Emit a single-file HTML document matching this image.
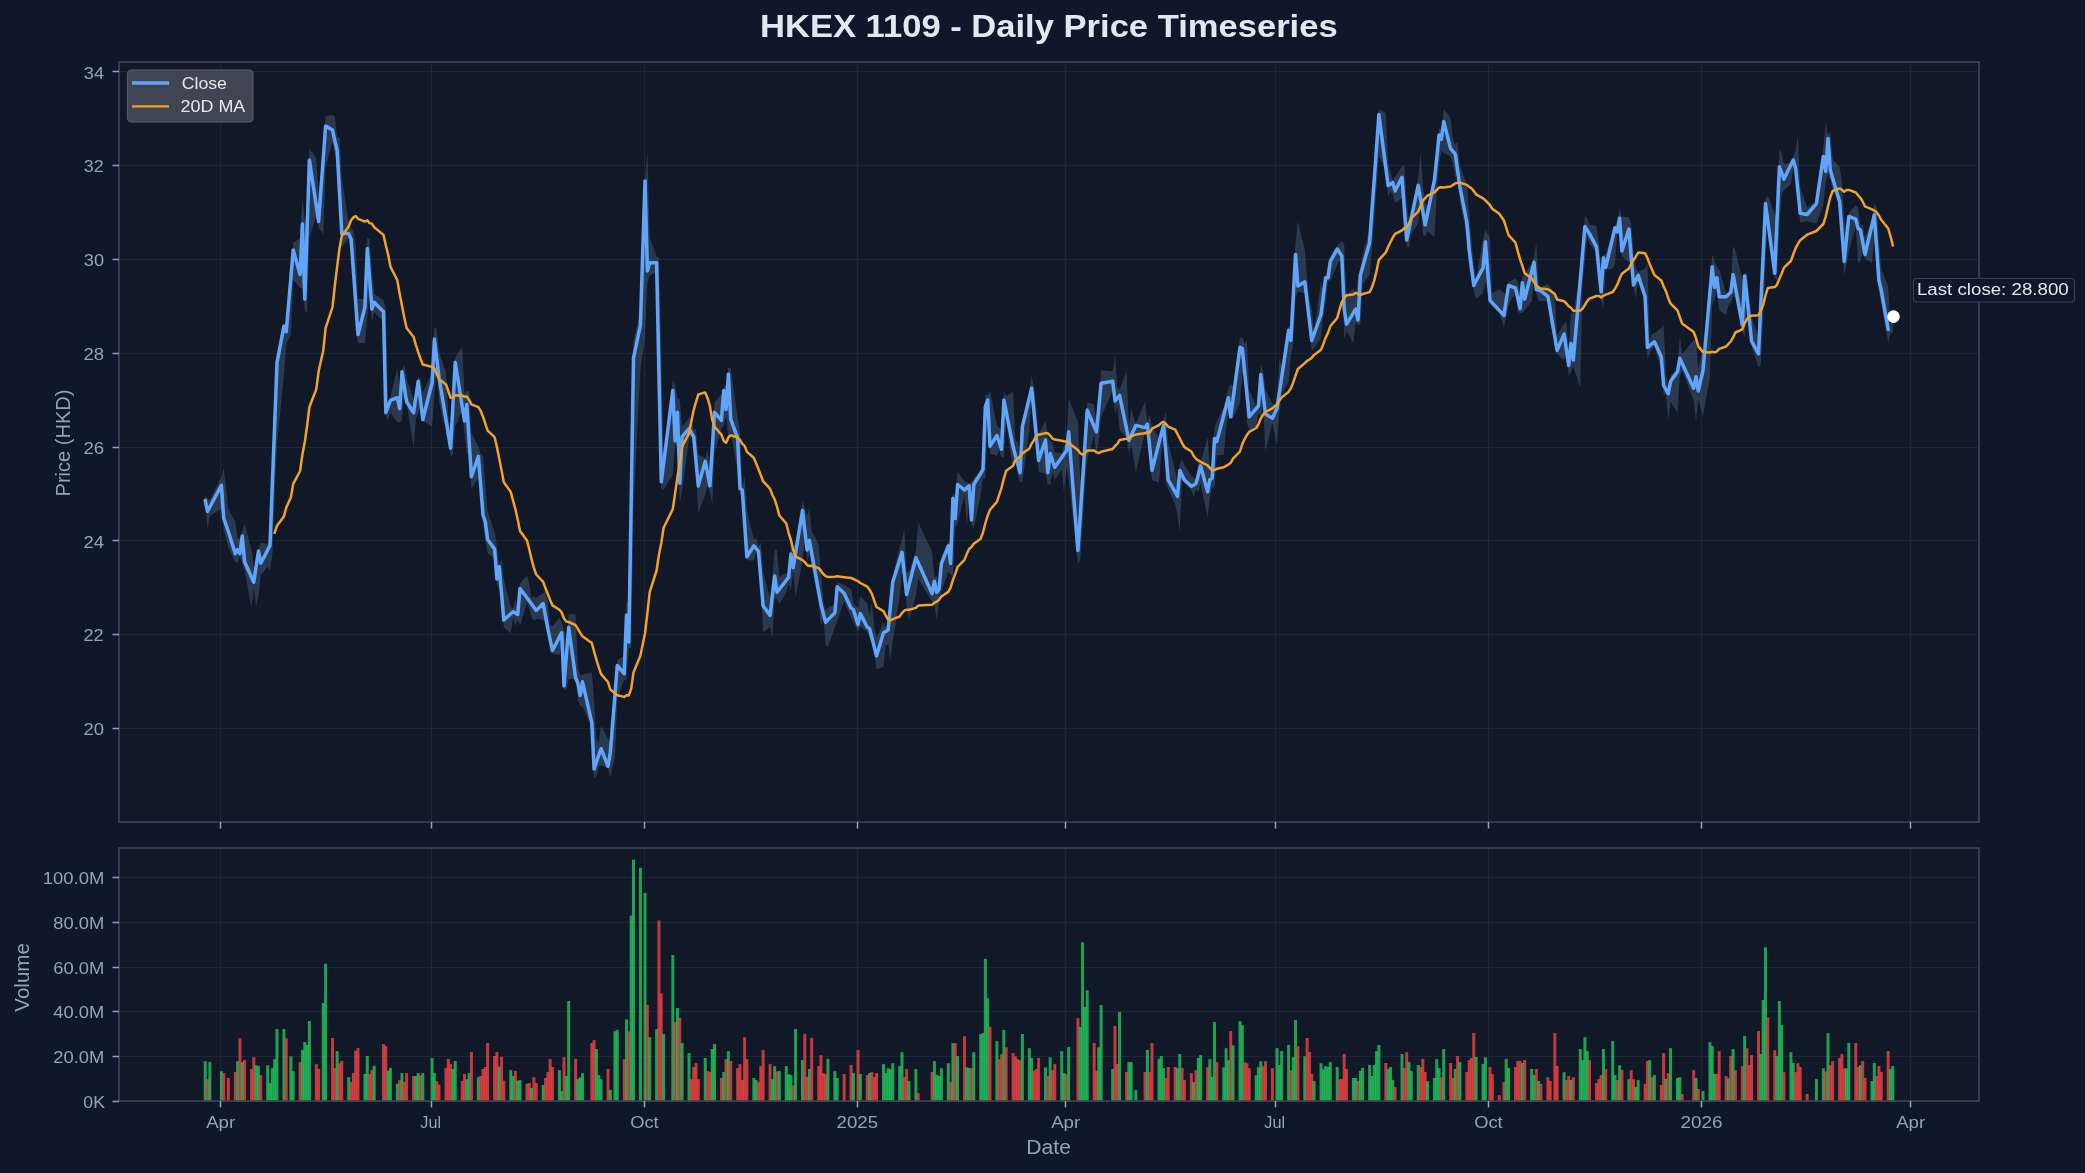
<!DOCTYPE html><html><head><meta charset="utf-8"><style>html,body{margin:0;padding:0;background:#0f172a;}svg{display:block;will-change:transform}text{font-family:"Liberation Sans",sans-serif}</style></head><body>
<svg width="2085" height="1173" viewBox="0 0 2085 1173">
<rect width="2085" height="1173" fill="#0f172a"/>
<rect x="119.0" y="62.0" width="1860.0" height="760.0" fill="#111827"/>
<rect x="119.0" y="848.0" width="1860.0" height="253.0" fill="#111827"/>
<path d="M119.0,728.5H1979.0M119.0,634.5H1979.0M119.0,540.5H1979.0M119.0,447.5H1979.0M119.0,353.5H1979.0M119.0,259.5H1979.0M119.0,165.5H1979.0M119.0,71.5H1979.0M119.0,1101.5H1979.0M119.0,1056.5H1979.0M119.0,1011.5H1979.0M119.0,967.5H1979.0M119.0,922.5H1979.0M119.0,877.5H1979.0M220.5,62.0V822.0M220.5,848.0V1101.0M431.5,62.0V822.0M431.5,848.0V1101.0M644.5,62.0V822.0M644.5,848.0V1101.0M857.5,62.0V822.0M857.5,848.0V1101.0M1065.5,62.0V822.0M1065.5,848.0V1101.0M1275.5,62.0V822.0M1275.5,848.0V1101.0M1488.5,62.0V822.0M1488.5,848.0V1101.0M1701.5,62.0V822.0M1701.5,848.0V1101.0M1910.5,62.0V822.0M1910.5,848.0V1101.0" stroke="#1f2937" stroke-width="1" stroke-opacity="0.85" fill="none"/>
<path d="M205.2,494.9L207.5,498.3L209.8,500.2L221.4,476.7L223.7,467.7L228.4,508.7L235.3,521.8L237.6,538.0L239.9,538.9L242.2,532.6L244.6,523.4L251.5,549.8L253.8,567.6L256.1,564.9L258.5,547.9L260.8,542.5L267.7,543.9L270.0,541.0L272.3,478.4L274.7,389.5L277.0,356.3L283.9,322.2L286.2,323.6L290.9,272.7L293.2,242.7L300.1,238.1L302.4,197.8L304.8,219.4L307.1,224.0L309.4,148.2L316.3,158.2L318.6,192.8L323.3,153.8L325.6,116.2L332.5,115.0L334.8,116.3L337.2,137.5L339.5,137.3L341.8,178.6L348.7,221.7L351.1,228.9L353.4,230.3L355.7,246.3L358.0,299.1L364.9,298.9L367.3,237.4L369.6,239.4L371.9,271.4L374.2,293.8L383.5,300.0L385.8,308.4L388.1,402.4L390.4,396.9L397.3,368.7L399.7,388.4L402.0,369.1L404.3,365.0L406.6,378.2L413.6,399.5L415.9,394.7L418.2,376.5L420.5,379.3L422.8,392.7L432.1,372.0L434.4,327.3L436.7,329.0L439.0,351.7L446.0,372.7L448.3,414.9L450.6,429.3L452.9,399.9L455.2,358.3L462.2,346.0L464.5,395.3L466.8,390.6L469.1,391.8L471.4,432.9L478.4,446.3L480.7,453.7L483.0,455.6L485.3,483.8L487.6,511.2L494.6,532.0L496.9,545.8L499.2,564.6L501.5,558.9L503.8,579.6L510.8,606.8L513.1,608.6L515.4,599.2L517.7,611.7L520.0,583.2L527.0,575.5L529.3,583.8L531.6,598.2L533.9,596.2L536.2,597.8L543.2,592.9L545.5,590.5L547.8,602.3L550.1,625.1L552.5,626.6L559.4,618.1L561.7,621.8L564.0,630.5L566.3,644.3L568.7,613.8L575.6,614.6L577.9,665.8L580.2,675.2L582.5,674.6L591.8,672.2L594.1,701.9L596.4,738.9L598.7,742.8L601.1,725.7L608.0,738.7L610.3,742.6L615.0,680.8L617.3,660.3L624.2,655.6L626.5,601.4L628.8,604.3L631.2,468.9L633.5,340.5L640.4,311.8L645.0,178.9L647.4,152.0L649.7,236.4L656.6,257.0L658.9,257.3L661.3,345.7L663.6,457.2L672.8,378.8L675.1,384.9L677.5,397.8L679.8,399.7L682.1,426.4L689.0,417.7L691.3,420.0L693.7,429.4L696.0,429.0L698.3,453.9L705.2,458.5L707.6,449.0L709.9,464.7L712.2,444.5L714.5,402.3L721.4,394.2L723.8,386.9L726.1,385.0L728.4,368.1L730.7,367.3L737.6,417.5L740.0,432.1L742.3,485.8L744.6,476.7L746.9,510.5L753.8,539.4L756.2,537.9L758.5,546.7L760.8,542.4L763.1,571.9L770.1,598.3L772.4,576.8L774.7,548.2L777.0,550.4L779.3,577.0L786.3,572.7L788.6,575.1L790.9,542.4L793.2,546.3L795.5,543.4L802.5,501.0L804.8,507.8L807.1,516.3L809.4,506.7L811.7,531.6L818.7,544.0L821.0,572.6L823.3,600.3L825.6,610.3L827.9,607.5L834.9,604.2L837.2,582.2L844.1,584.7L851.1,589.3L853.4,602.9L858.0,608.0L860.3,596.1L867.3,603.4L869.6,615.9L871.9,602.4L874.2,626.8L876.5,637.4L883.5,622.5L885.8,627.3L888.1,627.2L890.4,596.0L892.7,576.3L899.7,546.8L902.0,540.2L904.3,527.8L906.6,571.7L908.9,571.7L915.9,550.8L918.2,522.5L932.1,551.8L934.4,577.6L936.7,576.3L939.0,587.1L941.4,557.1L948.3,541.9L950.6,541.5L952.9,492.4L955.2,494.6L957.6,471.9L964.5,481.1L966.8,482.4L969.1,483.2L971.5,482.0L973.8,478.0L980.7,470.0L983.0,460.8L985.3,395.6L987.7,394.6L990.0,390.6L996.9,425.5L999.2,427.9L1001.5,429.0L1003.9,392.1L1006.2,395.9L1013.1,391.9L1015.4,440.1L1017.8,442.1L1020.1,461.0L1022.4,422.1L1029.3,390.4L1031.6,376.0L1034.0,386.8L1036.3,405.4L1038.6,434.2L1045.5,421.0L1047.8,437.3L1050.2,440.7L1052.5,443.7L1054.8,452.3L1061.7,453.1L1064.0,446.6L1066.4,443.6L1068.7,398.4L1077.9,421.7L1080.3,481.4L1082.6,474.2L1084.9,438.3L1087.2,402.2L1094.1,404.4L1096.5,424.4L1098.8,406.0L1101.1,370.3L1112.7,371.3L1115.0,355.5L1117.3,386.3L1119.6,390.0L1126.6,370.8L1128.9,427.6L1131.2,408.8L1135.8,423.9L1145.1,401.2L1147.4,422.1L1149.7,414.7L1152.0,427.1L1159.0,437.5L1161.3,427.5L1163.6,419.4L1165.9,412.0L1168.2,442.4L1175.2,471.0L1177.5,483.2L1179.8,463.6L1182.1,458.7L1184.4,465.1L1191.4,476.1L1193.7,477.7L1196.0,481.1L1198.3,462.1L1200.6,462.2L1207.6,436.9L1209.9,468.1L1212.2,476.4L1214.5,427.3L1216.8,421.3L1223.8,406.7L1226.1,397.5L1228.4,388.2L1230.7,384.1L1233.0,386.6L1240.0,337.7L1242.3,337.3L1244.6,343.9L1246.9,340.2L1249.2,389.9L1256.2,406.0L1258.5,394.1L1260.8,364.1L1263.1,371.1L1265.4,388.9L1272.4,404.2L1277.0,402.6L1279.3,358.9L1281.7,365.6L1288.6,326.4L1290.9,326.5L1293.2,288.3L1295.5,242.8L1297.9,221.3L1304.8,249.8L1307.1,278.0L1309.4,299.9L1311.7,309.1L1314.1,331.7L1321.0,281.0L1323.3,291.5L1325.6,276.1L1328.0,265.3L1330.3,256.5L1337.2,245.8L1339.5,242.8L1341.8,241.3L1344.2,244.3L1346.5,295.6L1353.4,288.2L1355.7,295.4L1358.0,276.6L1360.4,266.9L1362.7,253.6L1369.6,229.2L1371.9,207.7L1374.3,176.1L1376.6,142.6L1378.9,109.2L1385.8,112.9L1388.1,162.7L1390.5,171.6L1392.8,179.9L1395.1,176.8L1402.0,166.5L1404.3,164.3L1406.7,200.9L1409.0,220.0L1411.3,211.8L1418.2,177.7L1420.5,152.1L1422.9,185.1L1425.2,203.2L1427.5,205.8L1434.4,174.1L1436.8,151.0L1439.1,128.0L1441.4,131.4L1443.7,108.7L1450.6,118.0L1453.0,139.2L1455.3,144.7L1457.6,142.0L1459.9,165.8L1466.8,184.1L1469.2,214.0L1471.5,238.8L1473.8,265.0L1476.1,278.9L1483.1,238.5L1485.4,230.1L1490.0,237.3L1492.3,292.9L1499.3,289.2L1503.9,292.5L1506.2,296.6L1508.5,282.0L1515.5,278.4L1517.8,282.0L1520.1,291.3L1522.4,276.6L1524.7,274.8L1531.7,262.9L1534.0,256.8L1536.3,242.6L1538.6,284.5L1540.9,287.1L1547.9,284.3L1550.2,286.9L1554.8,295.9L1557.1,335.0L1564.1,323.6L1566.4,322.1L1568.7,347.7L1571.0,311.9L1573.3,313.7L1580.3,269.1L1582.6,246.3L1584.9,216.1L1587.2,218.1L1589.5,224.8L1596.5,225.9L1598.8,243.6L1601.1,265.8L1603.4,254.8L1605.7,253.8L1612.7,231.6L1615.0,225.2L1617.3,220.8L1619.6,208.8L1621.9,216.4L1628.9,217.0L1631.2,223.6L1633.5,251.0L1635.8,268.4L1638.2,272.0L1645.1,268.4L1647.4,263.1L1649.7,340.5L1652.0,333.8L1654.4,333.3L1661.3,328.1L1663.6,324.6L1665.9,371.9L1668.2,387.7L1670.6,375.2L1677.5,368.9L1679.8,335.5L1682.1,353.9L1693.7,340.0L1696.0,340.1L1698.3,370.3L1703.0,345.9L1709.9,288.6L1712.2,254.3L1714.5,261.1L1716.9,267.0L1719.2,269.3L1726.1,292.9L1728.4,291.7L1730.8,286.1L1733.1,246.1L1735.4,250.6L1742.3,279.7L1744.6,273.5L1747.0,272.3L1749.3,296.2L1751.6,317.5L1758.5,336.6L1760.8,295.1L1763.2,247.6L1765.5,198.3L1767.8,195.2L1774.7,213.5L1777.0,218.5L1779.4,148.9L1781.7,153.5L1784.0,164.2L1790.9,162.5L1793.3,156.5L1795.6,151.0L1797.9,136.5L1800.2,186.9L1807.1,207.7L1816.4,201.5L1823.3,147.4L1825.7,123.0L1828.0,135.2L1830.3,130.4L1832.6,159.2L1839.6,166.7L1841.9,181.1L1844.2,217.5L1846.5,236.7L1848.8,213.1L1855.8,205.1L1858.1,207.6L1860.4,226.4L1862.7,223.4L1865.0,237.5L1872.0,219.7L1874.3,202.6L1876.6,207.4L1878.9,239.0L1881.2,268.1L1888.2,287.2L1890.5,326.9L1892.8,305.2L1892.8,332.8L1890.5,333.5L1888.2,342.5L1881.2,304.0L1878.9,293.0L1876.6,257.8L1874.3,236.7L1872.0,263.1L1865.0,258.5L1862.7,251.6L1860.4,261.0L1858.1,262.9L1855.8,226.8L1848.8,252.0L1846.5,265.1L1844.2,275.5L1841.9,241.1L1839.6,206.3L1832.6,188.9L1830.3,179.7L1828.0,173.9L1825.7,182.0L1823.3,205.2L1816.4,223.8L1807.1,221.0L1800.2,222.7L1797.9,203.2L1795.6,172.1L1793.3,168.9L1790.9,184.0L1784.0,190.3L1781.7,194.1L1779.4,225.3L1777.0,280.2L1774.7,277.6L1767.8,226.7L1765.5,261.5L1763.2,316.1L1760.8,364.8L1758.5,367.1L1751.6,346.2L1749.3,321.2L1747.0,306.4L1744.6,337.7L1742.3,331.4L1735.4,298.9L1733.1,295.6L1730.8,302.8L1728.4,305.2L1726.1,315.3L1719.2,309.9L1716.9,289.3L1714.5,299.2L1712.2,305.1L1709.9,377.2L1703.0,416.2L1698.3,399.4L1696.0,421.8L1693.7,400.5L1682.1,371.1L1679.8,376.4L1677.5,413.2L1670.6,401.7L1668.2,420.9L1665.9,394.7L1663.6,394.5L1661.3,370.5L1654.4,346.1L1652.0,349.0L1649.7,354.0L1647.4,359.5L1645.1,298.7L1638.2,282.6L1635.8,298.4L1633.5,286.9L1631.2,262.5L1628.9,262.2L1621.9,256.1L1619.6,236.4L1617.3,233.3L1615.0,263.5L1612.7,268.8L1605.7,270.1L1603.4,309.8L1601.1,299.0L1598.8,281.0L1596.5,252.7L1589.5,243.7L1587.2,236.1L1584.9,261.4L1582.6,282.9L1580.3,388.0L1573.3,366.8L1571.0,371.8L1568.7,376.8L1566.4,351.7L1564.1,360.5L1557.1,354.1L1554.8,340.8L1550.2,322.8L1547.9,300.9L1540.9,300.9L1538.6,301.4L1536.3,293.8L1534.0,280.0L1531.7,301.6L1524.7,310.3L1522.4,312.7L1520.1,313.3L1517.8,311.8L1515.5,291.6L1508.5,305.2L1506.2,317.2L1503.9,327.3L1499.3,313.3L1492.3,306.5L1490.0,304.6L1485.4,281.3L1483.1,293.2L1476.1,299.0L1473.8,291.2L1471.5,273.6L1469.2,271.2L1466.8,236.9L1459.9,201.0L1457.6,174.4L1455.3,178.6L1453.0,165.3L1450.6,156.4L1443.7,153.0L1441.4,151.0L1439.1,163.3L1436.8,192.5L1434.4,237.3L1427.5,231.3L1425.2,236.2L1422.9,234.9L1420.5,204.1L1418.2,223.4L1411.3,234.6L1409.0,247.2L1406.7,246.7L1404.3,210.1L1402.0,198.3L1395.1,203.1L1392.8,194.8L1390.5,191.7L1388.1,196.6L1385.8,172.1L1378.9,154.4L1376.6,186.9L1374.3,219.8L1371.9,249.3L1369.6,274.4L1362.7,284.8L1360.4,324.6L1358.0,324.8L1355.7,322.3L1353.4,343.6L1346.5,330.9L1344.2,339.1L1341.8,261.6L1339.5,260.6L1337.2,264.9L1330.3,280.8L1328.0,280.7L1325.6,304.1L1323.3,317.1L1321.0,338.2L1314.1,348.1L1311.7,350.8L1309.4,328.8L1307.1,304.8L1304.8,293.3L1297.9,291.6L1295.5,299.7L1293.2,344.4L1290.9,355.1L1288.6,381.4L1281.7,394.4L1279.3,413.7L1277.0,445.5L1272.4,423.2L1265.4,452.0L1263.1,399.9L1260.8,418.3L1258.5,411.8L1256.2,426.2L1249.2,429.5L1246.9,422.6L1244.6,374.9L1242.3,374.3L1240.0,402.7L1233.0,418.8L1230.7,418.7L1228.4,412.8L1226.1,428.7L1223.8,454.8L1216.8,455.3L1214.5,489.3L1212.2,487.1L1209.9,497.6L1207.6,517.7L1200.6,483.3L1198.3,492.5L1196.0,489.3L1193.7,497.2L1191.4,490.7L1184.4,482.5L1182.1,480.1L1179.8,532.0L1177.5,515.0L1175.2,504.9L1168.2,489.1L1165.9,483.2L1163.6,440.3L1161.3,452.8L1159.0,482.7L1152.0,480.0L1149.7,460.5L1147.4,439.8L1145.1,432.1L1135.8,472.7L1131.2,444.5L1128.9,453.7L1126.6,437.8L1119.6,430.1L1117.3,405.6L1115.0,413.9L1112.7,390.4L1101.1,416.8L1098.8,440.9L1096.5,454.4L1094.1,435.2L1087.2,458.9L1084.9,485.3L1082.6,526.5L1080.3,559.7L1077.9,564.2L1068.7,479.8L1066.4,466.2L1064.0,493.0L1061.7,469.4L1054.8,479.9L1052.5,472.5L1050.2,485.4L1047.8,483.9L1045.5,473.9L1038.6,471.7L1036.3,442.3L1034.0,416.8L1031.6,402.4L1029.3,429.4L1022.4,482.2L1020.1,482.1L1017.8,475.6L1015.4,460.2L1013.1,469.5L1006.2,422.8L1003.9,457.1L1001.5,457.8L999.2,450.6L996.9,456.1L990.0,453.6L987.7,413.5L985.3,479.5L983.0,477.6L980.7,495.3L973.8,527.7L971.5,524.0L969.1,499.4L966.8,525.8L964.5,495.5L957.6,523.8L955.2,527.3L952.9,575.7L950.6,574.6L948.3,571.4L941.4,592.0L939.0,603.7L936.7,619.8L934.4,605.5L932.1,601.2L918.2,579.1L915.9,595.6L908.9,619.9L906.6,605.0L904.3,577.4L902.0,571.7L899.7,596.3L892.7,642.5L890.4,659.8L888.1,644.6L885.8,645.6L883.5,666.5L876.5,669.7L874.2,652.4L871.9,642.1L869.6,638.1L867.3,632.1L860.3,626.4L858.0,631.8L853.4,622.2L851.1,617.7L844.1,601.6L837.2,620.8L834.9,626.9L827.9,647.0L825.6,645.5L823.3,617.4L821.0,625.6L818.7,604.4L811.7,566.5L809.4,554.6L807.1,561.1L804.8,536.6L802.5,561.8L795.5,597.1L793.2,571.4L790.9,590.4L788.6,583.7L786.3,592.8L779.3,604.0L777.0,598.5L774.7,598.1L772.4,638.9L770.1,626.7L763.1,632.4L760.8,583.9L758.5,553.3L756.2,553.2L753.8,560.5L746.9,560.2L744.6,525.5L742.3,503.7L740.0,493.6L737.6,470.7L730.7,431.7L728.4,437.7L726.1,416.2L723.8,425.4L721.4,428.8L714.5,453.1L712.2,504.6L709.9,492.0L707.6,484.9L705.2,494.7L698.3,513.1L696.0,471.0L693.7,442.3L691.3,436.6L689.0,439.7L682.1,489.9L679.8,503.2L677.5,449.3L675.1,443.3L672.8,474.7L663.6,489.5L661.3,489.2L658.9,383.2L656.6,271.9L649.7,275.6L647.4,282.6L645.0,338.5L640.4,369.8L633.5,505.9L631.2,648.2L628.8,647.6L626.5,680.0L624.2,680.0L617.3,698.3L615.0,757.0L610.3,777.1L608.0,768.1L601.1,765.4L598.7,766.8L596.4,776.3L594.1,777.9L591.8,727.3L582.5,706.7L580.2,705.9L577.9,699.7L575.6,679.1L568.7,679.3L566.3,690.5L564.0,688.9L561.7,645.2L559.4,655.1L552.5,653.6L550.1,652.4L547.8,633.8L545.5,621.9L543.2,620.0L536.2,618.8L533.9,620.7L531.6,617.3L529.3,607.7L527.0,602.9L520.0,625.4L517.7,619.7L515.4,625.9L513.1,616.9L510.8,633.4L503.8,627.2L501.5,596.3L499.2,589.3L496.9,584.4L494.6,558.3L487.6,553.3L485.3,540.1L483.0,525.9L480.7,495.1L478.4,478.6L471.4,488.7L469.1,452.3L466.8,453.5L464.5,433.4L462.2,410.6L455.2,425.9L452.9,454.4L450.6,456.5L448.3,441.2L446.0,431.9L439.0,401.9L436.7,370.1L434.4,394.7L432.1,426.9L422.8,421.1L420.5,405.7L418.2,413.5L415.9,418.4L413.6,447.7L406.6,403.9L404.3,391.5L402.0,419.9L399.7,422.5L397.3,422.2L390.4,412.3L388.1,420.3L385.8,415.9L383.5,321.7L374.2,312.2L371.9,321.6L369.6,289.0L367.3,318.3L364.9,343.0L358.0,343.0L355.7,328.9L353.4,283.9L351.1,252.0L348.7,238.7L341.8,246.8L339.5,200.7L337.2,162.7L334.8,153.9L332.5,141.4L325.6,167.5L323.3,234.2L318.6,227.4L316.3,216.2L309.4,237.5L307.1,313.0L304.8,310.3L302.4,288.3L300.1,287.9L293.2,280.0L290.9,334.8L286.2,344.3L283.9,376.6L277.0,443.5L274.7,495.8L272.3,555.6L270.0,570.8L267.7,566.5L260.8,575.5L258.5,595.8L256.1,607.2L253.8,587.3L251.5,607.9L244.6,570.7L242.2,563.5L239.9,556.5L237.6,562.3L235.3,562.4L228.4,546.8L223.7,529.9L221.4,509.0L209.8,515.5L207.5,529.1L205.2,502.7Z" fill="#7d9ac4" fill-opacity="0.25" stroke="none"/>
<path d="M205.2,500.4L207.5,511.3L209.8,507.0L221.4,485.4L223.7,518.2L228.4,531.8L235.3,553.6L237.6,549.5L239.9,553.6L242.2,535.9L244.6,561.8L251.5,577.2L253.8,582.3L256.1,566.6L258.5,550.9L260.8,563.2L267.7,549.9L270.0,545.4L272.3,484.5L274.7,423.6L277.0,362.7L283.9,326.3L286.2,331.8L290.9,277.3L293.2,250.0L300.1,274.5L302.4,224.1L304.8,299.1L307.1,229.6L309.4,160.0L316.3,206.1L318.6,221.4L323.3,157.7L325.6,125.9L332.5,130.0L334.8,140.6L337.2,151.1L339.5,192.4L341.8,233.6L348.7,233.6L351.1,239.1L353.4,270.9L355.7,302.7L358.0,334.5L364.9,307.3L367.3,248.6L369.6,278.8L371.9,309.1L374.2,302.3L383.5,311.8L385.8,412.7L388.1,406.5L390.4,400.4L397.3,397.7L399.7,408.6L402.0,371.8L404.3,386.8L406.6,401.8L413.6,412.7L415.9,397.0L418.2,381.3L420.5,400.4L422.8,419.5L432.1,382.7L434.4,339.1L436.7,358.2L439.0,377.3L446.0,419.8L448.3,434.0L450.6,448.2L452.9,405.2L455.2,362.3L462.2,406.3L464.5,420.9L466.8,404.5L469.1,440.7L471.4,476.8L478.4,456.4L480.7,485.7L483.0,515.0L485.3,521.8L487.6,539.5L494.6,549.1L496.9,579.1L499.2,566.8L501.5,593.4L503.8,620.0L510.8,613.8L513.1,611.8L515.4,613.1L517.7,614.5L520.0,588.6L527.0,597.8L529.3,600.9L531.6,604.1L533.9,607.2L536.2,610.4L543.2,603.6L545.5,616.1L547.8,628.6L550.1,639.5L552.5,650.4L559.4,637.1L561.7,632.7L564.0,685.9L566.3,656.6L568.7,627.3L575.6,677.7L577.9,683.2L580.2,695.4L582.5,681.8L591.8,722.7L594.1,769.1L596.4,762.3L598.7,755.4L601.1,748.6L608.0,766.3L610.3,752.7L615.0,694.5L617.3,665.4L624.2,673.6L626.5,615.0L628.8,642.0L631.2,500.0L633.5,358.0L640.4,325.4L645.0,180.9L647.4,270.9L649.7,262.7L656.6,262.7L658.9,372.2L661.3,481.8L663.6,463.5L672.8,390.4L675.1,440.9L677.5,412.3L679.8,483.2L682.1,436.8L689.0,428.6L691.3,432.7L693.7,436.8L696.0,461.3L698.3,485.9L705.2,461.4L707.6,473.6L709.9,485.9L712.2,449.1L714.5,412.3L721.4,420.4L723.8,390.4L726.1,409.5L728.4,374.1L730.7,419.1L737.6,438.2L740.0,488.6L742.3,490.0L744.6,523.4L746.9,556.8L753.8,545.9L756.2,548.6L758.5,551.4L760.8,578.6L763.1,605.9L770.1,615.4L772.4,595.6L774.7,575.9L777.0,592.3L779.3,589.3L786.3,580.3L788.6,577.3L790.9,554.1L793.2,567.7L795.5,553.4L802.5,510.5L804.8,530.2L807.1,550.0L809.4,540.4L811.7,553.2L818.7,591.7L821.0,604.5L823.3,613.4L825.6,622.3L827.9,619.9L834.9,612.7L837.2,586.8L844.1,593.2L851.1,608.2L853.4,609.5L858.0,624.5L860.3,613.6L867.3,627.3L869.6,628.6L871.9,637.7L874.2,646.8L876.5,655.9L883.5,632.7L885.8,631.4L888.1,630.0L890.4,606.1L892.7,582.3L899.7,559.8L902.0,552.3L904.3,573.4L906.6,594.5L908.9,585.3L915.9,557.7L918.2,562.8L932.1,593.6L934.4,581.3L936.7,592.3L939.0,589.5L941.4,563.6L948.3,545.9L950.6,563.6L952.9,498.2L955.2,518.6L957.6,484.5L964.5,490.0L966.8,487.9L969.1,485.9L971.5,520.0L973.8,484.5L980.7,473.3L983.0,469.5L985.3,406.8L987.7,400.0L990.0,446.4L996.9,435.5L999.2,442.3L1001.5,449.1L1003.9,400.0L1006.2,411.7L1013.1,446.8L1015.4,455.4L1017.8,464.1L1020.1,472.7L1022.4,426.4L1029.3,397.8L1031.6,388.2L1034.0,412.3L1036.3,436.3L1038.6,460.4L1045.5,440.0L1047.8,472.7L1050.2,453.6L1052.5,460.5L1054.8,467.3L1061.7,457.5L1064.0,454.2L1066.4,450.9L1068.7,431.8L1077.9,550.4L1080.3,515.3L1082.6,480.2L1084.9,445.1L1087.2,410.0L1094.1,426.3L1096.5,431.8L1098.8,407.5L1101.1,383.2L1112.7,381.3L1115.0,400.9L1117.3,398.1L1119.6,395.4L1126.6,429.2L1128.9,440.4L1131.2,435.4L1135.8,425.4L1145.1,427.6L1147.4,424.1L1149.7,447.2L1152.0,470.4L1159.0,442.8L1161.3,433.6L1163.6,425.4L1165.9,452.7L1168.2,480.0L1175.2,492.2L1177.5,496.3L1179.8,470.4L1182.1,475.2L1184.4,480.0L1191.4,486.3L1193.7,485.0L1196.0,483.6L1198.3,474.7L1200.6,465.9L1207.6,491.8L1209.9,479.5L1212.2,478.2L1214.5,438.6L1216.8,441.4L1223.8,415.2L1226.1,406.4L1228.4,397.7L1230.7,416.8L1233.0,399.4L1240.0,347.3L1242.3,348.6L1244.6,371.3L1246.9,394.1L1249.2,416.8L1256.2,408.6L1258.5,405.9L1260.8,374.5L1263.1,394.3L1265.4,414.1L1272.4,418.2L1277.0,408.6L1279.3,392.9L1281.7,377.2L1288.6,330.2L1290.9,340.4L1293.2,297.4L1295.5,254.5L1297.9,285.9L1304.8,281.8L1307.1,301.3L1309.4,320.9L1311.7,340.4L1314.1,333.9L1321.0,314.5L1323.3,296.1L1325.6,277.7L1328.0,277.7L1330.3,261.4L1337.2,249.1L1339.5,252.5L1341.8,255.9L1344.2,309.1L1346.5,324.1L1353.4,312.9L1355.7,309.1L1358.0,320.0L1360.4,275.2L1362.7,267.1L1369.6,242.7L1371.9,210.7L1374.3,178.6L1376.6,146.5L1378.9,114.5L1385.8,167.7L1388.1,185.4L1390.5,184.1L1392.8,182.7L1395.1,190.9L1402.0,177.3L1404.3,208.7L1406.7,240.0L1409.0,229.1L1411.3,218.2L1418.2,185.4L1420.5,198.6L1422.9,211.8L1425.2,225.0L1427.5,213.7L1434.4,180.0L1436.8,157.5L1439.1,135.0L1441.4,139.1L1443.7,121.4L1450.6,148.6L1453.0,151.3L1455.3,154.1L1457.6,170.5L1459.9,187.0L1466.8,222.0L1469.2,250.0L1471.5,267.7L1473.8,285.4L1476.1,281.0L1483.1,267.7L1485.4,241.8L1490.0,300.4L1492.3,302.9L1499.3,310.4L1503.9,315.4L1506.2,300.4L1508.5,285.4L1515.5,288.2L1517.8,298.4L1520.1,308.6L1522.4,282.7L1524.7,299.1L1531.7,271.5L1534.0,262.3L1536.3,289.5L1538.6,290.2L1540.9,290.9L1547.9,296.3L1550.2,309.8L1554.8,336.9L1557.1,350.4L1564.1,334.1L1566.4,349.8L1568.7,365.4L1571.0,343.6L1573.3,360.0L1580.3,279.8L1582.6,253.1L1584.9,226.4L1587.2,230.1L1589.5,233.8L1596.5,246.8L1598.8,269.3L1601.1,291.8L1603.4,257.7L1605.7,267.3L1612.7,237.6L1615.0,227.7L1617.3,231.8L1619.6,218.2L1621.9,250.9L1628.9,229.1L1631.2,257.1L1633.5,285.0L1635.8,280.2L1638.2,275.4L1645.1,296.8L1647.4,347.3L1649.7,345.5L1652.0,343.6L1654.4,341.8L1661.3,356.8L1663.6,385.4L1665.9,389.5L1668.2,393.6L1670.6,381.3L1677.5,371.8L1679.8,358.2L1682.1,363.2L1693.7,388.2L1696.0,376.7L1698.3,390.9L1703.0,370.4L1709.9,292.7L1712.2,266.8L1714.5,287.3L1716.9,277.7L1719.2,296.8L1726.1,296.8L1728.4,294.5L1730.8,292.3L1733.1,274.5L1735.4,287.1L1742.3,325.0L1744.6,275.9L1747.0,297.7L1749.3,319.5L1751.6,341.3L1758.5,353.6L1760.8,303.6L1763.2,253.6L1765.5,203.6L1767.8,221.0L1774.7,273.2L1777.0,220.0L1779.4,166.8L1781.7,172.9L1784.0,179.1L1790.9,164.8L1793.3,160.0L1795.6,168.2L1797.9,190.7L1800.2,213.2L1807.1,214.5L1816.4,203.6L1823.3,156.4L1825.7,171.4L1828.0,138.6L1830.3,170.0L1832.6,177.9L1839.6,201.4L1841.9,231.4L1844.2,261.4L1846.5,238.9L1848.8,216.4L1855.8,219.1L1858.1,228.6L1860.4,230.0L1862.7,242.2L1865.0,254.5L1872.0,224.9L1874.3,215.0L1876.6,247.7L1878.9,280.4L1881.2,290.0L1888.2,329.5" fill="none" stroke="#60a5fa" stroke-width="3.5" stroke-linejoin="round" stroke-linecap="round"/>
<path d="M274.7,532.6L277.0,525.7L283.9,516.5L286.2,507.7L290.9,497.3L293.2,483.9L300.1,471.0L302.4,454.5L304.8,442.0L307.1,425.8L309.4,407.0L316.3,389.2L318.6,371.5L323.3,350.2L325.6,328.2L332.5,307.1L334.8,286.0L337.2,266.1L339.5,248.4L341.8,235.9L348.7,226.4L351.1,220.2L353.4,217.4L355.7,216.0L358.0,218.8L364.9,221.7L367.3,220.4L369.6,223.1L371.9,223.6L374.2,227.3L383.5,234.9L385.8,245.2L388.1,254.5L390.4,266.6L397.3,280.2L399.7,294.1L402.0,305.7L404.3,317.5L406.6,327.9L413.6,336.9L415.9,345.1L418.2,352.2L420.5,358.6L422.8,364.5L432.1,366.9L434.4,368.5L436.7,374.0L439.0,378.9L446.0,384.4L448.3,391.0L450.6,397.8L452.9,397.5L455.2,395.2L462.2,395.5L464.5,396.7L466.8,396.5L469.1,399.9L471.4,404.4L478.4,407.2L480.7,410.8L483.0,416.7L485.3,423.7L487.6,430.7L494.6,437.2L496.9,447.0L499.2,458.4L501.5,470.1L503.8,482.3L510.8,492.0L513.1,500.9L515.4,509.1L517.7,519.6L520.0,530.9L527.0,540.5L529.3,549.5L531.6,559.4L533.9,567.8L536.2,574.5L543.2,581.8L545.5,588.3L547.8,594.0L550.1,599.9L552.5,605.4L559.4,609.8L561.7,612.5L564.0,618.5L566.3,621.6L568.7,622.0L575.6,625.2L577.9,628.8L580.2,632.9L582.5,636.2L591.8,643.0L594.1,651.5L596.4,659.6L598.7,667.2L601.1,674.2L608.0,682.0L610.3,689.5L615.0,693.4L617.3,695.2L624.2,696.9L626.5,695.2L628.8,695.4L631.2,688.8L633.5,672.4L640.4,655.8L645.0,633.5L647.4,613.2L649.7,592.1L656.6,570.5L658.9,555.0L661.3,543.0L663.6,527.7L672.8,509.1L675.1,493.4L677.5,476.6L679.8,462.4L682.1,446.6L689.0,433.3L691.3,421.7L693.7,409.8L696.0,402.2L698.3,394.4L705.2,392.4L707.6,398.2L709.9,406.2L712.2,419.6L714.5,426.7L721.4,434.6L723.8,441.0L726.1,442.8L728.4,437.5L730.7,435.2L737.6,437.6L740.0,440.0L742.3,443.9L744.6,445.9L746.9,451.9L753.8,457.8L756.2,463.6L758.5,469.3L760.8,475.2L763.1,481.2L770.1,488.9L772.4,495.0L774.7,499.5L777.0,506.6L779.3,515.5L786.3,523.5L788.6,532.8L790.9,540.0L793.2,549.7L795.5,556.4L802.5,560.1L804.8,562.1L807.1,565.1L809.4,566.0L811.7,565.8L818.7,568.1L821.0,570.9L823.3,574.0L825.6,576.2L827.9,576.9L834.9,576.7L837.2,576.3L844.1,577.2L851.1,578.0L853.4,579.0L858.0,581.2L860.3,583.0L867.3,586.7L869.6,589.7L871.9,593.9L874.2,600.7L876.5,607.0L883.5,611.1L885.8,615.7L888.1,619.5L890.4,620.3L892.7,619.1L899.7,616.5L902.0,613.0L904.3,610.6L906.6,609.7L908.9,609.7L915.9,607.9L918.2,605.6L932.1,604.8L934.4,602.7L936.7,601.6L939.0,599.7L941.4,596.5L948.3,591.9L950.6,587.7L952.9,579.8L955.2,574.1L957.6,566.8L964.5,559.8L966.8,553.9L969.1,549.0L971.5,547.0L973.8,543.7L980.7,538.7L983.0,532.4L985.3,523.5L987.7,515.6L990.0,509.8L996.9,501.9L999.2,494.9L1001.5,487.8L1003.9,478.3L1006.2,470.7L1013.1,465.7L1015.4,460.3L1017.8,458.6L1020.1,456.3L1022.4,453.4L1029.3,448.8L1031.6,443.8L1034.0,440.1L1036.3,435.9L1038.6,434.7L1045.5,433.1L1047.8,433.2L1050.2,435.6L1052.5,438.6L1054.8,439.6L1061.7,440.7L1064.0,441.3L1066.4,441.4L1068.7,443.0L1077.9,450.0L1080.3,453.4L1082.6,454.6L1084.9,453.7L1087.2,450.5L1094.1,450.5L1096.5,452.2L1098.8,453.2L1101.1,451.7L1112.7,449.0L1115.0,446.0L1117.3,443.9L1119.6,440.1L1126.6,438.8L1128.9,437.8L1131.2,436.2L1135.8,434.6L1145.1,433.3L1147.4,432.0L1149.7,432.7L1152.0,428.7L1159.0,425.1L1161.3,422.8L1163.6,421.8L1165.9,423.9L1168.2,426.6L1175.2,429.6L1177.5,434.1L1179.8,438.4L1182.1,443.1L1184.4,447.1L1191.4,451.5L1193.7,456.0L1196.0,458.7L1198.3,460.4L1200.6,461.9L1207.6,465.3L1209.9,467.9L1212.2,470.6L1214.5,470.1L1216.8,468.7L1223.8,467.3L1226.1,465.9L1228.4,464.6L1230.7,462.8L1233.0,458.7L1240.0,451.5L1242.3,444.1L1244.6,439.1L1246.9,435.1L1249.2,431.9L1256.2,428.0L1258.5,424.1L1260.8,418.6L1263.1,414.6L1265.4,412.0L1272.4,408.3L1277.0,404.8L1279.3,400.5L1281.7,397.5L1288.6,391.9L1290.9,388.2L1293.2,382.7L1295.5,375.6L1297.9,369.0L1304.8,363.1L1307.1,360.8L1309.4,359.5L1311.7,357.9L1314.1,354.9L1321.0,349.8L1323.3,344.2L1325.6,337.7L1328.0,332.9L1330.3,326.3L1337.2,318.0L1339.5,309.7L1341.8,302.1L1344.2,297.9L1346.5,295.2L1353.4,294.4L1355.7,292.8L1358.0,293.9L1360.4,295.0L1362.7,294.0L1369.6,292.1L1371.9,287.5L1374.3,280.4L1376.6,270.7L1378.9,259.8L1385.8,252.4L1388.1,246.9L1390.5,242.2L1392.8,237.5L1395.1,233.9L1402.0,230.3L1404.3,228.1L1406.7,227.4L1409.0,223.4L1411.3,218.1L1418.2,211.7L1420.5,206.2L1422.9,200.7L1425.2,198.2L1427.5,195.6L1434.4,192.4L1436.8,189.8L1439.1,187.6L1441.4,187.2L1443.7,187.6L1450.6,186.6L1453.0,184.9L1455.3,183.4L1457.6,182.8L1459.9,182.6L1466.8,184.9L1469.2,186.9L1471.5,188.3L1473.8,191.1L1476.1,194.3L1483.1,198.4L1485.4,200.5L1490.0,205.0L1492.3,208.9L1499.3,213.7L1503.9,220.5L1506.2,227.6L1508.5,235.1L1515.5,242.6L1517.8,251.4L1520.1,259.4L1522.4,266.0L1524.7,273.3L1531.7,278.3L1534.0,282.1L1536.3,285.4L1538.6,287.4L1540.9,288.6L1547.9,289.2L1550.2,290.6L1554.8,294.1L1557.1,299.5L1564.1,301.2L1566.4,303.5L1568.7,306.3L1571.0,307.7L1573.3,310.7L1580.3,310.4L1582.6,308.6L1584.9,305.0L1587.2,301.1L1589.5,298.7L1596.5,296.0L1598.8,295.9L1601.1,297.4L1603.4,295.8L1605.7,294.7L1612.7,292.0L1615.0,288.6L1617.3,284.7L1619.6,278.7L1621.9,273.8L1628.9,268.5L1631.2,263.9L1633.5,259.9L1635.8,256.7L1638.2,252.5L1645.1,253.3L1647.4,258.0L1649.7,264.0L1652.0,269.6L1654.4,275.0L1661.3,280.5L1663.6,286.3L1665.9,291.2L1668.2,298.0L1670.6,303.7L1677.5,310.4L1679.8,317.0L1682.1,323.5L1693.7,332.0L1696.0,338.3L1698.3,346.4L1703.0,352.1L1709.9,352.5L1712.2,351.8L1714.5,352.4L1716.9,351.4L1719.2,348.9L1726.1,346.5L1728.4,344.0L1730.8,341.5L1733.1,337.4L1735.4,332.5L1742.3,329.3L1744.6,323.4L1747.0,319.2L1749.3,316.6L1751.6,315.8L1758.5,315.3L1760.8,311.1L1763.2,304.9L1765.5,295.5L1767.8,288.1L1774.7,287.1L1777.0,284.8L1779.4,278.7L1781.7,273.5L1784.0,267.6L1790.9,261.0L1793.3,254.3L1795.6,248.1L1797.9,243.9L1800.2,240.2L1807.1,234.7L1816.4,231.0L1823.3,224.0L1825.7,216.6L1828.0,206.4L1830.3,197.3L1832.6,191.0L1839.6,188.4L1841.9,189.8L1844.2,191.8L1846.5,190.1L1848.8,189.9L1855.8,192.5L1858.1,195.3L1860.4,197.8L1862.7,201.7L1865.0,206.4L1872.0,209.3L1874.3,210.5L1876.6,212.2L1878.9,215.5L1881.2,219.8L1888.2,228.5L1890.5,236.4L1892.8,245.3" fill="none" stroke="#f2a12a" stroke-width="2.5" stroke-linejoin="round" stroke-linecap="square"/>
<g fill-opacity="0.8"><rect x="203.71" y="1061.2" width="3.0" height="40.1" fill="#22c55e"/><rect x="206.03" y="1079.2" width="3.0" height="22.1" fill="#ef4444"/><rect x="208.34" y="1062.1" width="3.0" height="39.2" fill="#22c55e"/><rect x="219.91" y="1071.1" width="3.0" height="30.2" fill="#22c55e"/><rect x="222.23" y="1073.1" width="3.0" height="28.2" fill="#ef4444"/><rect x="226.86" y="1078.0" width="3.0" height="23.3" fill="#ef4444"/><rect x="233.80" y="1071.9" width="3.0" height="29.4" fill="#ef4444"/><rect x="236.12" y="1061.2" width="3.0" height="40.1" fill="#22c55e"/><rect x="238.43" y="1038.3" width="3.0" height="63.0" fill="#ef4444"/><rect x="240.75" y="1062.1" width="3.0" height="39.2" fill="#22c55e"/><rect x="243.06" y="1060.1" width="3.0" height="41.2" fill="#ef4444"/><rect x="250.01" y="1069.0" width="3.0" height="32.3" fill="#ef4444"/><rect x="252.32" y="1057.2" width="3.0" height="44.1" fill="#ef4444"/><rect x="254.64" y="1065.3" width="3.0" height="36.0" fill="#22c55e"/><rect x="256.95" y="1066.1" width="3.0" height="35.2" fill="#22c55e"/><rect x="259.27" y="1075.1" width="3.0" height="26.2" fill="#ef4444"/><rect x="266.21" y="1065.3" width="3.0" height="36.0" fill="#22c55e"/><rect x="268.53" y="1083.0" width="3.0" height="18.3" fill="#22c55e"/><rect x="270.84" y="1068.2" width="3.0" height="33.1" fill="#22c55e"/><rect x="273.16" y="1059.2" width="3.0" height="42.1" fill="#22c55e"/><rect x="275.47" y="1029.0" width="3.0" height="72.3" fill="#22c55e"/><rect x="282.42" y="1029.0" width="3.0" height="72.3" fill="#22c55e"/><rect x="284.73" y="1038.3" width="3.0" height="63.0" fill="#ef4444"/><rect x="289.36" y="1056.3" width="3.0" height="45.0" fill="#22c55e"/><rect x="291.68" y="1071.1" width="3.0" height="30.2" fill="#22c55e"/><rect x="298.62" y="1062.1" width="3.0" height="39.2" fill="#ef4444"/><rect x="300.94" y="1049.9" width="3.0" height="51.4" fill="#22c55e"/><rect x="303.25" y="1042.1" width="3.0" height="59.2" fill="#22c55e"/><rect x="305.57" y="1045.0" width="3.0" height="56.3" fill="#22c55e"/><rect x="307.88" y="1021.0" width="3.0" height="80.3" fill="#22c55e"/><rect x="314.83" y="1064.1" width="3.0" height="37.2" fill="#ef4444"/><rect x="317.14" y="1069.0" width="3.0" height="32.3" fill="#ef4444"/><rect x="321.77" y="1003.0" width="3.0" height="98.3" fill="#22c55e"/><rect x="324.09" y="963.8" width="3.0" height="137.5" fill="#22c55e"/><rect x="331.03" y="1038.0" width="3.0" height="63.3" fill="#ef4444"/><rect x="333.35" y="1068.2" width="3.0" height="33.1" fill="#ef4444"/><rect x="335.66" y="1051.1" width="3.0" height="50.2" fill="#22c55e"/><rect x="337.98" y="1063.2" width="3.0" height="38.1" fill="#ef4444"/><rect x="340.29" y="1060.9" width="3.0" height="40.4" fill="#ef4444"/><rect x="347.24" y="1077.2" width="3.0" height="24.1" fill="#22c55e"/><rect x="349.55" y="1082.1" width="3.0" height="19.2" fill="#ef4444"/><rect x="351.87" y="1073.1" width="3.0" height="28.2" fill="#ef4444"/><rect x="354.18" y="1050.8" width="3.0" height="50.5" fill="#ef4444"/><rect x="356.50" y="1047.9" width="3.0" height="53.4" fill="#ef4444"/><rect x="363.44" y="1074.0" width="3.0" height="27.3" fill="#22c55e"/><rect x="365.76" y="1056.0" width="3.0" height="45.3" fill="#22c55e"/><rect x="368.07" y="1074.0" width="3.0" height="27.3" fill="#ef4444"/><rect x="370.39" y="1069.9" width="3.0" height="31.4" fill="#ef4444"/><rect x="372.70" y="1065.9" width="3.0" height="35.4" fill="#22c55e"/><rect x="381.96" y="1044.1" width="3.0" height="57.2" fill="#ef4444"/><rect x="384.28" y="1045.9" width="3.0" height="55.4" fill="#ef4444"/><rect x="386.59" y="1070.8" width="3.0" height="30.5" fill="#22c55e"/><rect x="388.90" y="1067.9" width="3.0" height="33.4" fill="#22c55e"/><rect x="395.85" y="1083.8" width="3.0" height="17.5" fill="#22c55e"/><rect x="398.16" y="1080.1" width="3.0" height="21.2" fill="#ef4444"/><rect x="400.48" y="1073.1" width="3.0" height="28.2" fill="#22c55e"/><rect x="402.79" y="1081.8" width="3.0" height="19.5" fill="#ef4444"/><rect x="405.11" y="1073.1" width="3.0" height="28.2" fill="#ef4444"/><rect x="412.05" y="1076.0" width="3.0" height="25.3" fill="#ef4444"/><rect x="414.37" y="1076.0" width="3.0" height="25.3" fill="#22c55e"/><rect x="416.68" y="1073.1" width="3.0" height="28.2" fill="#22c55e"/><rect x="419.00" y="1075.4" width="3.0" height="25.9" fill="#ef4444"/><rect x="421.31" y="1073.1" width="3.0" height="28.2" fill="#22c55e"/><rect x="430.57" y="1058.0" width="3.0" height="43.3" fill="#22c55e"/><rect x="432.89" y="1073.1" width="3.0" height="28.2" fill="#22c55e"/><rect x="435.20" y="1081.2" width="3.0" height="20.1" fill="#ef4444"/><rect x="437.52" y="1084.7" width="3.0" height="16.6" fill="#ef4444"/><rect x="444.46" y="1067.9" width="3.0" height="33.4" fill="#ef4444"/><rect x="446.78" y="1058.9" width="3.0" height="42.4" fill="#ef4444"/><rect x="449.09" y="1064.1" width="3.0" height="37.2" fill="#ef4444"/><rect x="451.41" y="1069.0" width="3.0" height="32.3" fill="#22c55e"/><rect x="453.72" y="1061.0" width="3.0" height="40.3" fill="#22c55e"/><rect x="460.67" y="1080.9" width="3.0" height="20.4" fill="#ef4444"/><rect x="462.98" y="1074.0" width="3.0" height="27.3" fill="#ef4444"/><rect x="465.30" y="1079.2" width="3.0" height="22.1" fill="#22c55e"/><rect x="467.61" y="1073.1" width="3.0" height="28.2" fill="#22c55e"/><rect x="469.93" y="1052.0" width="3.0" height="49.3" fill="#ef4444"/><rect x="476.87" y="1077.2" width="3.0" height="24.1" fill="#22c55e"/><rect x="479.19" y="1076.0" width="3.0" height="25.3" fill="#ef4444"/><rect x="481.50" y="1069.0" width="3.0" height="32.3" fill="#ef4444"/><rect x="483.82" y="1067.0" width="3.0" height="34.3" fill="#ef4444"/><rect x="486.13" y="1043.0" width="3.0" height="58.3" fill="#ef4444"/><rect x="493.08" y="1056.0" width="3.0" height="45.3" fill="#ef4444"/><rect x="495.39" y="1052.0" width="3.0" height="49.3" fill="#ef4444"/><rect x="497.71" y="1066.7" width="3.0" height="34.6" fill="#22c55e"/><rect x="500.02" y="1056.9" width="3.0" height="44.4" fill="#ef4444"/><rect x="502.34" y="1080.6" width="3.0" height="20.7" fill="#ef4444"/><rect x="509.28" y="1070.2" width="3.0" height="31.1" fill="#22c55e"/><rect x="511.60" y="1076.0" width="3.0" height="25.3" fill="#22c55e"/><rect x="513.91" y="1070.8" width="3.0" height="30.5" fill="#ef4444"/><rect x="516.23" y="1080.6" width="3.0" height="20.7" fill="#22c55e"/><rect x="518.54" y="1080.1" width="3.0" height="21.2" fill="#22c55e"/><rect x="525.49" y="1083.8" width="3.0" height="17.5" fill="#ef4444"/><rect x="527.80" y="1083.0" width="3.0" height="18.3" fill="#ef4444"/><rect x="530.12" y="1087.9" width="3.0" height="13.4" fill="#22c55e"/><rect x="532.43" y="1077.2" width="3.0" height="24.1" fill="#ef4444"/><rect x="534.75" y="1083.0" width="3.0" height="18.3" fill="#ef4444"/><rect x="541.69" y="1085.0" width="3.0" height="16.3" fill="#22c55e"/><rect x="544.01" y="1078.0" width="3.0" height="23.3" fill="#ef4444"/><rect x="546.32" y="1072.0" width="3.0" height="29.3" fill="#ef4444"/><rect x="548.64" y="1059.2" width="3.0" height="42.1" fill="#ef4444"/><rect x="550.95" y="1067.0" width="3.0" height="34.3" fill="#ef4444"/><rect x="557.89" y="1070.2" width="3.0" height="31.1" fill="#22c55e"/><rect x="560.21" y="1091.0" width="3.0" height="10.3" fill="#22c55e"/><rect x="562.52" y="1057.2" width="3.0" height="44.1" fill="#ef4444"/><rect x="564.84" y="1076.0" width="3.0" height="25.3" fill="#22c55e"/><rect x="567.15" y="1001.0" width="3.0" height="100.3" fill="#22c55e"/><rect x="574.10" y="1058.9" width="3.0" height="42.4" fill="#ef4444"/><rect x="576.41" y="1078.9" width="3.0" height="22.4" fill="#22c55e"/><rect x="578.73" y="1077.4" width="3.0" height="23.9" fill="#22c55e"/><rect x="581.04" y="1073.1" width="3.0" height="28.2" fill="#22c55e"/><rect x="590.30" y="1043.0" width="3.0" height="58.3" fill="#ef4444"/><rect x="592.62" y="1040.1" width="3.0" height="61.2" fill="#ef4444"/><rect x="594.93" y="1049.0" width="3.0" height="52.3" fill="#22c55e"/><rect x="597.25" y="1075.1" width="3.0" height="26.2" fill="#22c55e"/><rect x="599.56" y="1079.2" width="3.0" height="22.1" fill="#22c55e"/><rect x="606.51" y="1069.0" width="3.0" height="32.3" fill="#ef4444"/><rect x="608.82" y="1089.9" width="3.0" height="11.4" fill="#22c55e"/><rect x="613.45" y="1031.2" width="3.0" height="70.1" fill="#22c55e"/><rect x="615.77" y="1029.9" width="3.0" height="71.4" fill="#22c55e"/><rect x="622.71" y="1059.2" width="3.0" height="42.1" fill="#ef4444"/><rect x="625.03" y="1019.4" width="3.0" height="81.9" fill="#22c55e"/><rect x="627.34" y="1031.5" width="3.0" height="69.8" fill="#ef4444"/><rect x="629.66" y="915.6" width="3.0" height="185.7" fill="#22c55e"/><rect x="631.97" y="859.7" width="3.0" height="241.6" fill="#22c55e"/><rect x="638.92" y="867.8" width="3.0" height="233.5" fill="#22c55e"/><rect x="643.55" y="893.0" width="3.0" height="208.3" fill="#22c55e"/><rect x="645.86" y="1004.8" width="3.0" height="96.5" fill="#ef4444"/><rect x="648.18" y="1037.2" width="3.0" height="64.1" fill="#22c55e"/><rect x="655.12" y="1029.1" width="3.0" height="72.2" fill="#22c55e"/><rect x="657.44" y="920.5" width="3.0" height="180.8" fill="#ef4444"/><rect x="659.75" y="993.4" width="3.0" height="107.9" fill="#ef4444"/><rect x="662.07" y="1034.0" width="3.0" height="67.3" fill="#22c55e"/><rect x="671.33" y="955.0" width="3.0" height="146.3" fill="#22c55e"/><rect x="673.64" y="1021.8" width="3.0" height="79.5" fill="#ef4444"/><rect x="675.96" y="1008.0" width="3.0" height="93.3" fill="#22c55e"/><rect x="678.27" y="1017.7" width="3.0" height="83.6" fill="#ef4444"/><rect x="680.59" y="1043.0" width="3.0" height="58.3" fill="#22c55e"/><rect x="687.53" y="1053.1" width="3.0" height="48.2" fill="#22c55e"/><rect x="689.85" y="1079.2" width="3.0" height="22.1" fill="#ef4444"/><rect x="692.16" y="1067.0" width="3.0" height="34.3" fill="#ef4444"/><rect x="694.48" y="1063.0" width="3.0" height="38.3" fill="#ef4444"/><rect x="696.79" y="1079.2" width="3.0" height="22.1" fill="#ef4444"/><rect x="703.74" y="1058.0" width="3.0" height="43.3" fill="#22c55e"/><rect x="706.05" y="1071.1" width="3.0" height="30.2" fill="#ef4444"/><rect x="708.37" y="1072.0" width="3.0" height="29.3" fill="#ef4444"/><rect x="710.68" y="1049.0" width="3.0" height="52.3" fill="#22c55e"/><rect x="713.00" y="1044.1" width="3.0" height="57.2" fill="#22c55e"/><rect x="719.94" y="1078.0" width="3.0" height="23.3" fill="#ef4444"/><rect x="722.26" y="1072.0" width="3.0" height="29.3" fill="#22c55e"/><rect x="724.57" y="1059.2" width="3.0" height="42.1" fill="#ef4444"/><rect x="726.88" y="1051.1" width="3.0" height="50.2" fill="#22c55e"/><rect x="729.20" y="1061.0" width="3.0" height="40.3" fill="#ef4444"/><rect x="736.14" y="1068.2" width="3.0" height="33.1" fill="#ef4444"/><rect x="738.46" y="1064.1" width="3.0" height="37.2" fill="#ef4444"/><rect x="740.77" y="1080.0" width="3.0" height="21.3" fill="#ef4444"/><rect x="743.09" y="1037.2" width="3.0" height="64.1" fill="#ef4444"/><rect x="745.40" y="1059.2" width="3.0" height="42.1" fill="#ef4444"/><rect x="752.35" y="1078.0" width="3.0" height="23.3" fill="#22c55e"/><rect x="754.66" y="1080.1" width="3.0" height="21.2" fill="#22c55e"/><rect x="756.98" y="1082.1" width="3.0" height="19.2" fill="#ef4444"/><rect x="759.29" y="1066.1" width="3.0" height="35.2" fill="#ef4444"/><rect x="761.61" y="1050.2" width="3.0" height="51.1" fill="#ef4444"/><rect x="768.55" y="1064.1" width="3.0" height="37.2" fill="#ef4444"/><rect x="770.87" y="1079.2" width="3.0" height="22.1" fill="#22c55e"/><rect x="773.18" y="1066.1" width="3.0" height="35.2" fill="#22c55e"/><rect x="775.50" y="1071.4" width="3.0" height="29.9" fill="#ef4444"/><rect x="777.81" y="1071.1" width="3.0" height="30.2" fill="#22c55e"/><rect x="784.76" y="1066.1" width="3.0" height="35.2" fill="#22c55e"/><rect x="787.07" y="1074.3" width="3.0" height="27.0" fill="#22c55e"/><rect x="789.39" y="1075.1" width="3.0" height="26.2" fill="#22c55e"/><rect x="791.70" y="1085.3" width="3.0" height="16.0" fill="#ef4444"/><rect x="794.02" y="1029.0" width="3.0" height="72.3" fill="#22c55e"/><rect x="800.96" y="1060.1" width="3.0" height="41.2" fill="#22c55e"/><rect x="803.28" y="1033.8" width="3.0" height="67.5" fill="#ef4444"/><rect x="805.59" y="1076.9" width="3.0" height="24.4" fill="#ef4444"/><rect x="807.91" y="1069.0" width="3.0" height="32.3" fill="#22c55e"/><rect x="810.22" y="1037.8" width="3.0" height="63.5" fill="#ef4444"/><rect x="817.17" y="1066.1" width="3.0" height="35.2" fill="#ef4444"/><rect x="819.48" y="1055.1" width="3.0" height="46.2" fill="#ef4444"/><rect x="821.80" y="1073.1" width="3.0" height="28.2" fill="#ef4444"/><rect x="824.11" y="1074.3" width="3.0" height="27.0" fill="#ef4444"/><rect x="826.43" y="1058.9" width="3.0" height="42.4" fill="#22c55e"/><rect x="833.37" y="1071.1" width="3.0" height="30.2" fill="#22c55e"/><rect x="835.69" y="1078.0" width="3.0" height="23.3" fill="#22c55e"/><rect x="842.63" y="1074.0" width="3.0" height="27.3" fill="#ef4444"/><rect x="849.58" y="1065.0" width="3.0" height="36.3" fill="#ef4444"/><rect x="851.89" y="1073.1" width="3.0" height="28.2" fill="#22c55e"/><rect x="856.52" y="1049.9" width="3.0" height="51.4" fill="#ef4444"/><rect x="858.84" y="1074.0" width="3.0" height="27.3" fill="#22c55e"/><rect x="865.78" y="1075.1" width="3.0" height="26.2" fill="#ef4444"/><rect x="868.10" y="1073.1" width="3.0" height="28.2" fill="#22c55e"/><rect x="870.41" y="1072.2" width="3.0" height="29.1" fill="#ef4444"/><rect x="872.73" y="1077.2" width="3.0" height="24.1" fill="#ef4444"/><rect x="875.04" y="1073.1" width="3.0" height="28.2" fill="#ef4444"/><rect x="881.99" y="1064.1" width="3.0" height="37.2" fill="#22c55e"/><rect x="884.30" y="1073.1" width="3.0" height="28.2" fill="#22c55e"/><rect x="886.62" y="1068.2" width="3.0" height="33.1" fill="#22c55e"/><rect x="888.93" y="1069.3" width="3.0" height="32.0" fill="#22c55e"/><rect x="891.25" y="1063.2" width="3.0" height="38.1" fill="#22c55e"/><rect x="898.19" y="1066.1" width="3.0" height="35.2" fill="#22c55e"/><rect x="900.50" y="1052.2" width="3.0" height="49.1" fill="#22c55e"/><rect x="902.82" y="1076.9" width="3.0" height="24.4" fill="#ef4444"/><rect x="905.13" y="1069.0" width="3.0" height="32.3" fill="#ef4444"/><rect x="907.45" y="1080.9" width="3.0" height="20.4" fill="#22c55e"/><rect x="914.39" y="1069.0" width="3.0" height="32.3" fill="#22c55e"/><rect x="916.71" y="1093.1" width="3.0" height="8.2" fill="#ef4444"/><rect x="930.60" y="1071.9" width="3.0" height="29.4" fill="#ef4444"/><rect x="932.91" y="1061.2" width="3.0" height="40.1" fill="#22c55e"/><rect x="935.23" y="1074.8" width="3.0" height="26.5" fill="#22c55e"/><rect x="937.54" y="1076.0" width="3.0" height="25.3" fill="#22c55e"/><rect x="939.86" y="1068.2" width="3.0" height="33.1" fill="#22c55e"/><rect x="946.80" y="1063.2" width="3.0" height="38.1" fill="#22c55e"/><rect x="949.12" y="1082.1" width="3.0" height="19.2" fill="#ef4444"/><rect x="951.43" y="1043.2" width="3.0" height="58.1" fill="#22c55e"/><rect x="953.75" y="1043.2" width="3.0" height="58.1" fill="#ef4444"/><rect x="956.06" y="1056.0" width="3.0" height="45.3" fill="#22c55e"/><rect x="963.01" y="1036.2" width="3.0" height="65.1" fill="#ef4444"/><rect x="965.32" y="1067.3" width="3.0" height="34.0" fill="#22c55e"/><rect x="967.64" y="1068.0" width="3.0" height="33.3" fill="#22c55e"/><rect x="969.95" y="1068.2" width="3.0" height="33.1" fill="#ef4444"/><rect x="972.27" y="1052.2" width="3.0" height="49.1" fill="#22c55e"/><rect x="979.21" y="1034.0" width="3.0" height="67.3" fill="#22c55e"/><rect x="981.53" y="1033.1" width="3.0" height="68.2" fill="#22c55e"/><rect x="983.84" y="958.8" width="3.0" height="142.5" fill="#22c55e"/><rect x="986.16" y="998.2" width="3.0" height="103.1" fill="#22c55e"/><rect x="988.47" y="1026.8" width="3.0" height="74.5" fill="#ef4444"/><rect x="995.42" y="1041.2" width="3.0" height="60.1" fill="#22c55e"/><rect x="997.73" y="1059.2" width="3.0" height="42.1" fill="#ef4444"/><rect x="1000.05" y="1054.3" width="3.0" height="47.0" fill="#ef4444"/><rect x="1002.36" y="1030.0" width="3.0" height="71.3" fill="#22c55e"/><rect x="1004.68" y="1047.3" width="3.0" height="54.0" fill="#ef4444"/><rect x="1011.62" y="1053.1" width="3.0" height="48.2" fill="#ef4444"/><rect x="1013.94" y="1056.3" width="3.0" height="45.0" fill="#ef4444"/><rect x="1016.25" y="1059.2" width="3.0" height="42.1" fill="#ef4444"/><rect x="1018.57" y="1060.3" width="3.0" height="41.0" fill="#ef4444"/><rect x="1020.88" y="1034.0" width="3.0" height="67.3" fill="#22c55e"/><rect x="1027.83" y="1048.2" width="3.0" height="53.1" fill="#22c55e"/><rect x="1030.14" y="1058.0" width="3.0" height="43.3" fill="#22c55e"/><rect x="1032.46" y="1070.8" width="3.0" height="30.5" fill="#ef4444"/><rect x="1034.77" y="1069.0" width="3.0" height="32.3" fill="#ef4444"/><rect x="1037.09" y="1058.0" width="3.0" height="43.3" fill="#ef4444"/><rect x="1044.03" y="1067.3" width="3.0" height="34.0" fill="#22c55e"/><rect x="1046.35" y="1076.0" width="3.0" height="25.3" fill="#ef4444"/><rect x="1048.66" y="1057.2" width="3.0" height="44.1" fill="#22c55e"/><rect x="1050.98" y="1070.2" width="3.0" height="31.1" fill="#ef4444"/><rect x="1053.29" y="1064.1" width="3.0" height="37.2" fill="#ef4444"/><rect x="1060.24" y="1051.1" width="3.0" height="50.2" fill="#22c55e"/><rect x="1062.55" y="1073.1" width="3.0" height="28.2" fill="#22c55e"/><rect x="1064.86" y="1074.3" width="3.0" height="27.0" fill="#ef4444"/><rect x="1067.18" y="1047.0" width="3.0" height="54.3" fill="#22c55e"/><rect x="1076.44" y="1018.2" width="3.0" height="83.1" fill="#ef4444"/><rect x="1078.75" y="1027.0" width="3.0" height="74.3" fill="#22c55e"/><rect x="1081.07" y="942.3" width="3.0" height="159.0" fill="#22c55e"/><rect x="1083.38" y="1007.0" width="3.0" height="94.3" fill="#22c55e"/><rect x="1085.70" y="990.3" width="3.0" height="111.0" fill="#22c55e"/><rect x="1092.64" y="1043.0" width="3.0" height="58.3" fill="#ef4444"/><rect x="1094.96" y="1070.8" width="3.0" height="30.5" fill="#ef4444"/><rect x="1097.27" y="1047.3" width="3.0" height="54.0" fill="#22c55e"/><rect x="1099.59" y="1005.0" width="3.0" height="96.3" fill="#22c55e"/><rect x="1111.16" y="1069.0" width="3.0" height="32.3" fill="#22c55e"/><rect x="1113.48" y="1026.1" width="3.0" height="75.2" fill="#ef4444"/><rect x="1115.79" y="1064.1" width="3.0" height="37.2" fill="#ef4444"/><rect x="1118.11" y="1011.9" width="3.0" height="89.4" fill="#22c55e"/><rect x="1125.05" y="1071.9" width="3.0" height="29.4" fill="#ef4444"/><rect x="1127.37" y="1062.1" width="3.0" height="39.2" fill="#22c55e"/><rect x="1129.68" y="1062.1" width="3.0" height="39.2" fill="#22c55e"/><rect x="1134.31" y="1089.9" width="3.0" height="11.4" fill="#22c55e"/><rect x="1143.57" y="1071.9" width="3.0" height="29.4" fill="#ef4444"/><rect x="1145.89" y="1049.9" width="3.0" height="51.4" fill="#22c55e"/><rect x="1148.20" y="1072.2" width="3.0" height="29.1" fill="#ef4444"/><rect x="1150.52" y="1043.0" width="3.0" height="58.3" fill="#ef4444"/><rect x="1157.46" y="1059.0" width="3.0" height="42.3" fill="#22c55e"/><rect x="1159.78" y="1056.0" width="3.0" height="45.3" fill="#22c55e"/><rect x="1162.09" y="1068.2" width="3.0" height="33.1" fill="#22c55e"/><rect x="1164.41" y="1078.0" width="3.0" height="23.3" fill="#ef4444"/><rect x="1166.72" y="1067.0" width="3.0" height="34.3" fill="#ef4444"/><rect x="1173.67" y="1067.0" width="3.0" height="34.3" fill="#ef4444"/><rect x="1175.98" y="1068.2" width="3.0" height="33.1" fill="#22c55e"/><rect x="1178.30" y="1054.0" width="3.0" height="47.3" fill="#22c55e"/><rect x="1180.61" y="1067.9" width="3.0" height="33.4" fill="#ef4444"/><rect x="1182.93" y="1080.1" width="3.0" height="21.2" fill="#ef4444"/><rect x="1189.87" y="1073.1" width="3.0" height="28.2" fill="#ef4444"/><rect x="1192.19" y="1082.1" width="3.0" height="19.2" fill="#22c55e"/><rect x="1194.50" y="1070.2" width="3.0" height="31.1" fill="#ef4444"/><rect x="1196.82" y="1058.0" width="3.0" height="43.3" fill="#22c55e"/><rect x="1199.13" y="1055.1" width="3.0" height="46.2" fill="#22c55e"/><rect x="1206.08" y="1067.3" width="3.0" height="34.0" fill="#ef4444"/><rect x="1208.39" y="1059.2" width="3.0" height="42.1" fill="#22c55e"/><rect x="1210.71" y="1076.9" width="3.0" height="24.4" fill="#22c55e"/><rect x="1213.02" y="1022.1" width="3.0" height="79.2" fill="#22c55e"/><rect x="1215.34" y="1062.1" width="3.0" height="39.2" fill="#ef4444"/><rect x="1222.28" y="1067.3" width="3.0" height="34.0" fill="#22c55e"/><rect x="1224.60" y="1048.2" width="3.0" height="53.1" fill="#22c55e"/><rect x="1226.91" y="1060.3" width="3.0" height="41.0" fill="#22c55e"/><rect x="1229.23" y="1031.0" width="3.0" height="70.3" fill="#ef4444"/><rect x="1231.54" y="1045.3" width="3.0" height="56.0" fill="#22c55e"/><rect x="1238.48" y="1021.3" width="3.0" height="80.0" fill="#22c55e"/><rect x="1240.80" y="1025.2" width="3.0" height="76.1" fill="#22c55e"/><rect x="1243.11" y="1062.1" width="3.0" height="39.2" fill="#ef4444"/><rect x="1245.43" y="1063.2" width="3.0" height="38.1" fill="#ef4444"/><rect x="1247.74" y="1068.2" width="3.0" height="33.1" fill="#ef4444"/><rect x="1254.69" y="1075.1" width="3.0" height="26.2" fill="#22c55e"/><rect x="1257.00" y="1067.3" width="3.0" height="34.0" fill="#22c55e"/><rect x="1259.32" y="1061.2" width="3.0" height="40.1" fill="#22c55e"/><rect x="1261.63" y="1066.1" width="3.0" height="35.2" fill="#ef4444"/><rect x="1263.95" y="1061.2" width="3.0" height="40.1" fill="#ef4444"/><rect x="1270.89" y="1068.2" width="3.0" height="33.1" fill="#ef4444"/><rect x="1275.52" y="1048.2" width="3.0" height="53.1" fill="#22c55e"/><rect x="1277.84" y="1065.0" width="3.0" height="36.3" fill="#22c55e"/><rect x="1280.15" y="1051.1" width="3.0" height="50.2" fill="#22c55e"/><rect x="1287.10" y="1045.0" width="3.0" height="56.3" fill="#22c55e"/><rect x="1289.41" y="1070.2" width="3.0" height="31.1" fill="#ef4444"/><rect x="1291.73" y="1057.2" width="3.0" height="44.1" fill="#22c55e"/><rect x="1294.04" y="1020.0" width="3.0" height="81.3" fill="#22c55e"/><rect x="1296.36" y="1046.1" width="3.0" height="55.2" fill="#ef4444"/><rect x="1303.30" y="1056.3" width="3.0" height="45.0" fill="#22c55e"/><rect x="1305.62" y="1038.0" width="3.0" height="63.3" fill="#ef4444"/><rect x="1307.93" y="1052.0" width="3.0" height="49.3" fill="#ef4444"/><rect x="1310.25" y="1074.0" width="3.0" height="27.3" fill="#ef4444"/><rect x="1312.56" y="1080.9" width="3.0" height="20.4" fill="#22c55e"/><rect x="1319.51" y="1063.2" width="3.0" height="38.1" fill="#22c55e"/><rect x="1321.82" y="1069.3" width="3.0" height="32.0" fill="#22c55e"/><rect x="1324.14" y="1066.1" width="3.0" height="35.2" fill="#22c55e"/><rect x="1326.45" y="1067.0" width="3.0" height="34.3" fill="#22c55e"/><rect x="1328.77" y="1062.1" width="3.0" height="39.2" fill="#22c55e"/><rect x="1335.71" y="1067.0" width="3.0" height="34.3" fill="#22c55e"/><rect x="1338.03" y="1079.2" width="3.0" height="22.1" fill="#ef4444"/><rect x="1340.34" y="1079.0" width="3.0" height="22.3" fill="#ef4444"/><rect x="1342.66" y="1054.0" width="3.0" height="47.3" fill="#ef4444"/><rect x="1344.97" y="1069.0" width="3.0" height="32.3" fill="#ef4444"/><rect x="1351.92" y="1078.0" width="3.0" height="23.3" fill="#22c55e"/><rect x="1354.23" y="1078.0" width="3.0" height="23.3" fill="#22c55e"/><rect x="1356.55" y="1080.9" width="3.0" height="20.4" fill="#ef4444"/><rect x="1358.86" y="1070.8" width="3.0" height="30.5" fill="#22c55e"/><rect x="1361.18" y="1067.9" width="3.0" height="33.4" fill="#22c55e"/><rect x="1368.12" y="1065.0" width="3.0" height="36.3" fill="#22c55e"/><rect x="1370.44" y="1076.0" width="3.0" height="25.3" fill="#22c55e"/><rect x="1372.75" y="1065.0" width="3.0" height="36.3" fill="#22c55e"/><rect x="1375.07" y="1051.1" width="3.0" height="50.2" fill="#22c55e"/><rect x="1377.38" y="1045.0" width="3.0" height="56.3" fill="#22c55e"/><rect x="1384.33" y="1063.0" width="3.0" height="38.3" fill="#ef4444"/><rect x="1386.64" y="1069.3" width="3.0" height="32.0" fill="#22c55e"/><rect x="1388.96" y="1067.0" width="3.0" height="34.3" fill="#22c55e"/><rect x="1391.27" y="1080.1" width="3.0" height="21.2" fill="#22c55e"/><rect x="1393.59" y="1087.0" width="3.0" height="14.3" fill="#ef4444"/><rect x="1400.53" y="1054.0" width="3.0" height="47.3" fill="#22c55e"/><rect x="1402.84" y="1067.9" width="3.0" height="33.4" fill="#ef4444"/><rect x="1405.16" y="1052.2" width="3.0" height="49.1" fill="#ef4444"/><rect x="1407.47" y="1062.1" width="3.0" height="39.2" fill="#22c55e"/><rect x="1409.79" y="1071.1" width="3.0" height="30.2" fill="#22c55e"/><rect x="1416.73" y="1065.0" width="3.0" height="36.3" fill="#22c55e"/><rect x="1419.05" y="1067.0" width="3.0" height="34.3" fill="#ef4444"/><rect x="1421.36" y="1058.9" width="3.0" height="42.4" fill="#ef4444"/><rect x="1423.68" y="1072.0" width="3.0" height="29.3" fill="#ef4444"/><rect x="1425.99" y="1081.2" width="3.0" height="20.1" fill="#22c55e"/><rect x="1432.94" y="1078.0" width="3.0" height="23.3" fill="#22c55e"/><rect x="1435.25" y="1059.2" width="3.0" height="42.1" fill="#22c55e"/><rect x="1437.57" y="1068.2" width="3.0" height="33.1" fill="#22c55e"/><rect x="1439.88" y="1077.2" width="3.0" height="24.1" fill="#ef4444"/><rect x="1442.20" y="1049.0" width="3.0" height="52.3" fill="#22c55e"/><rect x="1449.14" y="1063.0" width="3.0" height="38.3" fill="#ef4444"/><rect x="1451.46" y="1078.0" width="3.0" height="23.3" fill="#ef4444"/><rect x="1453.77" y="1069.0" width="3.0" height="32.3" fill="#22c55e"/><rect x="1456.09" y="1056.0" width="3.0" height="45.3" fill="#ef4444"/><rect x="1458.40" y="1062.1" width="3.0" height="39.2" fill="#22c55e"/><rect x="1465.35" y="1071.9" width="3.0" height="29.4" fill="#ef4444"/><rect x="1467.66" y="1060.1" width="3.0" height="41.2" fill="#ef4444"/><rect x="1469.98" y="1058.0" width="3.0" height="43.3" fill="#ef4444"/><rect x="1472.29" y="1033.0" width="3.0" height="68.3" fill="#ef4444"/><rect x="1474.61" y="1056.9" width="3.0" height="44.4" fill="#22c55e"/><rect x="1481.55" y="1064.1" width="3.0" height="37.2" fill="#22c55e"/><rect x="1483.87" y="1057.2" width="3.0" height="44.1" fill="#22c55e"/><rect x="1488.50" y="1067.0" width="3.0" height="34.3" fill="#ef4444"/><rect x="1490.81" y="1074.0" width="3.0" height="27.3" fill="#ef4444"/><rect x="1497.76" y="1095.1" width="3.0" height="6.2" fill="#ef4444"/><rect x="1502.39" y="1082.1" width="3.0" height="19.2" fill="#ef4444"/><rect x="1504.70" y="1058.9" width="3.0" height="42.4" fill="#22c55e"/><rect x="1507.02" y="1067.9" width="3.0" height="33.4" fill="#22c55e"/><rect x="1513.96" y="1067.0" width="3.0" height="34.3" fill="#ef4444"/><rect x="1516.28" y="1060.9" width="3.0" height="40.4" fill="#ef4444"/><rect x="1518.59" y="1060.9" width="3.0" height="40.4" fill="#ef4444"/><rect x="1520.91" y="1063.0" width="3.0" height="38.3" fill="#22c55e"/><rect x="1523.22" y="1060.1" width="3.0" height="41.2" fill="#ef4444"/><rect x="1530.17" y="1069.0" width="3.0" height="32.3" fill="#22c55e"/><rect x="1532.48" y="1075.1" width="3.0" height="26.2" fill="#22c55e"/><rect x="1534.80" y="1069.0" width="3.0" height="32.3" fill="#ef4444"/><rect x="1537.11" y="1080.9" width="3.0" height="20.4" fill="#22c55e"/><rect x="1539.43" y="1083.8" width="3.0" height="17.5" fill="#ef4444"/><rect x="1546.37" y="1077.2" width="3.0" height="24.1" fill="#ef4444"/><rect x="1548.69" y="1080.9" width="3.0" height="20.4" fill="#ef4444"/><rect x="1553.32" y="1033.0" width="3.0" height="68.3" fill="#ef4444"/><rect x="1555.63" y="1065.9" width="3.0" height="35.4" fill="#ef4444"/><rect x="1562.58" y="1072.2" width="3.0" height="29.1" fill="#22c55e"/><rect x="1564.89" y="1080.1" width="3.0" height="21.2" fill="#ef4444"/><rect x="1567.21" y="1076.0" width="3.0" height="25.3" fill="#ef4444"/><rect x="1569.52" y="1080.1" width="3.0" height="21.2" fill="#22c55e"/><rect x="1571.83" y="1077.2" width="3.0" height="24.1" fill="#ef4444"/><rect x="1578.78" y="1049.0" width="3.0" height="52.3" fill="#22c55e"/><rect x="1581.09" y="1060.1" width="3.0" height="41.2" fill="#22c55e"/><rect x="1583.41" y="1037.2" width="3.0" height="64.1" fill="#22c55e"/><rect x="1585.72" y="1051.1" width="3.0" height="50.2" fill="#22c55e"/><rect x="1588.04" y="1060.1" width="3.0" height="41.2" fill="#ef4444"/><rect x="1594.98" y="1083.0" width="3.0" height="18.3" fill="#ef4444"/><rect x="1597.30" y="1079.2" width="3.0" height="22.1" fill="#ef4444"/><rect x="1599.61" y="1075.1" width="3.0" height="26.2" fill="#ef4444"/><rect x="1601.93" y="1049.0" width="3.0" height="52.3" fill="#22c55e"/><rect x="1604.24" y="1069.0" width="3.0" height="32.3" fill="#ef4444"/><rect x="1611.19" y="1040.9" width="3.0" height="60.4" fill="#22c55e"/><rect x="1613.50" y="1075.1" width="3.0" height="26.2" fill="#22c55e"/><rect x="1615.82" y="1080.1" width="3.0" height="21.2" fill="#ef4444"/><rect x="1618.13" y="1065.3" width="3.0" height="36.0" fill="#22c55e"/><rect x="1620.45" y="1069.9" width="3.0" height="31.4" fill="#ef4444"/><rect x="1627.39" y="1079.2" width="3.0" height="22.1" fill="#22c55e"/><rect x="1629.71" y="1070.2" width="3.0" height="31.1" fill="#ef4444"/><rect x="1632.02" y="1079.2" width="3.0" height="22.1" fill="#ef4444"/><rect x="1634.34" y="1087.0" width="3.0" height="14.3" fill="#22c55e"/><rect x="1636.65" y="1080.1" width="3.0" height="21.2" fill="#22c55e"/><rect x="1643.60" y="1083.8" width="3.0" height="17.5" fill="#ef4444"/><rect x="1645.91" y="1060.9" width="3.0" height="40.4" fill="#ef4444"/><rect x="1648.23" y="1060.1" width="3.0" height="41.2" fill="#22c55e"/><rect x="1650.54" y="1077.2" width="3.0" height="24.1" fill="#ef4444"/><rect x="1652.86" y="1075.1" width="3.0" height="26.2" fill="#22c55e"/><rect x="1659.80" y="1085.0" width="3.0" height="16.3" fill="#ef4444"/><rect x="1662.12" y="1053.1" width="3.0" height="48.2" fill="#ef4444"/><rect x="1664.43" y="1078.9" width="3.0" height="22.4" fill="#22c55e"/><rect x="1666.75" y="1073.1" width="3.0" height="28.2" fill="#ef4444"/><rect x="1669.06" y="1048.2" width="3.0" height="53.1" fill="#22c55e"/><rect x="1676.01" y="1078.0" width="3.0" height="23.3" fill="#22c55e"/><rect x="1678.32" y="1077.2" width="3.0" height="24.1" fill="#22c55e"/><rect x="1680.64" y="1094.0" width="3.0" height="7.3" fill="#ef4444"/><rect x="1692.21" y="1070.2" width="3.0" height="31.1" fill="#ef4444"/><rect x="1694.53" y="1078.0" width="3.0" height="23.3" fill="#22c55e"/><rect x="1696.84" y="1089.0" width="3.0" height="12.3" fill="#ef4444"/><rect x="1701.47" y="1091.1" width="3.0" height="10.2" fill="#22c55e"/><rect x="1708.42" y="1042.1" width="3.0" height="59.2" fill="#22c55e"/><rect x="1710.73" y="1046.1" width="3.0" height="55.2" fill="#22c55e"/><rect x="1713.05" y="1074.0" width="3.0" height="27.3" fill="#22c55e"/><rect x="1715.36" y="1074.0" width="3.0" height="27.3" fill="#ef4444"/><rect x="1717.68" y="1051.1" width="3.0" height="50.2" fill="#ef4444"/><rect x="1724.62" y="1076.0" width="3.0" height="25.3" fill="#ef4444"/><rect x="1726.94" y="1078.3" width="3.0" height="23.0" fill="#22c55e"/><rect x="1729.25" y="1056.0" width="3.0" height="45.3" fill="#ef4444"/><rect x="1731.57" y="1049.0" width="3.0" height="52.3" fill="#22c55e"/><rect x="1733.88" y="1070.2" width="3.0" height="31.1" fill="#ef4444"/><rect x="1740.82" y="1066.1" width="3.0" height="35.2" fill="#ef4444"/><rect x="1743.14" y="1035.9" width="3.0" height="65.4" fill="#22c55e"/><rect x="1745.45" y="1048.2" width="3.0" height="53.1" fill="#ef4444"/><rect x="1747.77" y="1065.0" width="3.0" height="36.3" fill="#ef4444"/><rect x="1750.08" y="1055.1" width="3.0" height="46.2" fill="#ef4444"/><rect x="1757.03" y="1031.0" width="3.0" height="70.3" fill="#ef4444"/><rect x="1759.34" y="1054.0" width="3.0" height="47.3" fill="#22c55e"/><rect x="1761.66" y="1000.1" width="3.0" height="101.2" fill="#22c55e"/><rect x="1763.97" y="947.2" width="3.0" height="154.1" fill="#22c55e"/><rect x="1766.29" y="1017.3" width="3.0" height="84.0" fill="#ef4444"/><rect x="1773.23" y="1050.2" width="3.0" height="51.1" fill="#ef4444"/><rect x="1775.55" y="1056.0" width="3.0" height="45.3" fill="#22c55e"/><rect x="1777.86" y="1001.0" width="3.0" height="100.3" fill="#22c55e"/><rect x="1780.18" y="1025.1" width="3.0" height="76.2" fill="#22c55e"/><rect x="1782.49" y="1072.2" width="3.0" height="29.1" fill="#ef4444"/><rect x="1789.44" y="1052.2" width="3.0" height="49.1" fill="#22c55e"/><rect x="1791.75" y="1063.0" width="3.0" height="38.3" fill="#22c55e"/><rect x="1794.07" y="1072.2" width="3.0" height="29.1" fill="#ef4444"/><rect x="1796.38" y="1063.2" width="3.0" height="38.1" fill="#ef4444"/><rect x="1798.70" y="1067.0" width="3.0" height="34.3" fill="#ef4444"/><rect x="1805.64" y="1094.0" width="3.0" height="7.3" fill="#ef4444"/><rect x="1814.90" y="1078.9" width="3.0" height="22.4" fill="#22c55e"/><rect x="1821.85" y="1068.3" width="3.0" height="33.0" fill="#22c55e"/><rect x="1824.16" y="1071.4" width="3.0" height="29.9" fill="#ef4444"/><rect x="1826.48" y="1033.2" width="3.0" height="68.1" fill="#22c55e"/><rect x="1828.79" y="1065.2" width="3.0" height="36.1" fill="#ef4444"/><rect x="1831.11" y="1061.2" width="3.0" height="40.1" fill="#ef4444"/><rect x="1838.05" y="1058.1" width="3.0" height="43.2" fill="#ef4444"/><rect x="1840.37" y="1054.1" width="3.0" height="47.2" fill="#ef4444"/><rect x="1842.68" y="1068.3" width="3.0" height="33.0" fill="#ef4444"/><rect x="1845.00" y="1068.3" width="3.0" height="33.0" fill="#22c55e"/><rect x="1847.31" y="1043.0" width="3.0" height="58.3" fill="#22c55e"/><rect x="1854.26" y="1043.0" width="3.0" height="58.3" fill="#ef4444"/><rect x="1856.57" y="1067.0" width="3.0" height="34.3" fill="#ef4444"/><rect x="1858.89" y="1065.2" width="3.0" height="36.1" fill="#22c55e"/><rect x="1861.20" y="1061.2" width="3.0" height="40.1" fill="#ef4444"/><rect x="1863.52" y="1078.0" width="3.0" height="23.3" fill="#ef4444"/><rect x="1870.46" y="1081.1" width="3.0" height="20.2" fill="#22c55e"/><rect x="1872.78" y="1063.0" width="3.0" height="38.3" fill="#22c55e"/><rect x="1875.09" y="1075.8" width="3.0" height="25.5" fill="#ef4444"/><rect x="1877.41" y="1066.0" width="3.0" height="35.3" fill="#ef4444"/><rect x="1879.72" y="1071.8" width="3.0" height="29.5" fill="#ef4444"/><rect x="1886.67" y="1051.0" width="3.0" height="50.3" fill="#ef4444"/><rect x="1888.98" y="1069.1" width="3.0" height="32.2" fill="#22c55e"/><rect x="1891.30" y="1066.0" width="3.0" height="35.3" fill="#22c55e"/></g>
<rect x="119.0" y="62.0" width="1860.0" height="760.0" fill="none" stroke="#3b4457" stroke-width="1.67"/>
<rect x="119.0" y="848.0" width="1860.0" height="253.0" fill="none" stroke="#3b4457" stroke-width="1.67"/>
<path d="M112.5,728.5H119.0M112.5,634.5H119.0M112.5,540.5H119.0M112.5,447.5H119.0M112.5,353.5H119.0M112.5,259.5H119.0M112.5,165.5H119.0M112.5,71.5H119.0M112.5,1101.5H119.0M112.5,1056.5H119.0M112.5,1011.5H119.0M112.5,967.5H119.0M112.5,922.5H119.0M112.5,877.5H119.0M220.5,822.0v6.5M220.5,1101.0v6.5M431.5,822.0v6.5M431.5,1101.0v6.5M644.5,822.0v6.5M644.5,1101.0v6.5M857.5,822.0v6.5M857.5,1101.0v6.5M1065.5,822.0v6.5M1065.5,1101.0v6.5M1275.5,822.0v6.5M1275.5,1101.0v6.5M1488.5,822.0v6.5M1488.5,1101.0v6.5M1701.5,822.0v6.5M1701.5,1101.0v6.5M1910.5,822.0v6.5M1910.5,1101.0v6.5" stroke="#94a3b8" stroke-width="1.5" fill="none"/>
<text x="83.53" y="735.10" fill="#94a3b8" font-size="17.4" textLength="20.53" lengthAdjust="spacingAndGlyphs">20</text>
<text x="83.55" y="641.30" fill="#94a3b8" font-size="17.4" textLength="20.14" lengthAdjust="spacingAndGlyphs">22</text>
<text x="83.53" y="547.50" fill="#94a3b8" font-size="17.4" textLength="20.52" lengthAdjust="spacingAndGlyphs">24</text>
<text x="83.53" y="453.70" fill="#94a3b8" font-size="17.4" textLength="20.69" lengthAdjust="spacingAndGlyphs">26</text>
<text x="83.53" y="359.90" fill="#94a3b8" font-size="17.4" textLength="20.58" lengthAdjust="spacingAndGlyphs">28</text>
<text x="83.82" y="266.10" fill="#94a3b8" font-size="17.4" textLength="20.24" lengthAdjust="spacingAndGlyphs">30</text>
<text x="83.83" y="172.30" fill="#94a3b8" font-size="17.4" textLength="19.85" lengthAdjust="spacingAndGlyphs">32</text>
<text x="83.82" y="78.50" fill="#94a3b8" font-size="17.4" textLength="20.23" lengthAdjust="spacingAndGlyphs">34</text>
<text x="83.32" y="1108.00" fill="#94a3b8" font-size="17.4" textLength="21.68" lengthAdjust="spacingAndGlyphs">0K</text>
<text x="53.26" y="1063.24" fill="#94a3b8" font-size="17.4" textLength="51.07" lengthAdjust="spacingAndGlyphs">20.0M</text>
<text x="53.35" y="1018.48" fill="#94a3b8" font-size="17.4" textLength="50.97" lengthAdjust="spacingAndGlyphs">40.0M</text>
<text x="53.19" y="973.72" fill="#94a3b8" font-size="17.4" textLength="51.14" lengthAdjust="spacingAndGlyphs">60.0M</text>
<text x="53.29" y="928.96" fill="#94a3b8" font-size="17.4" textLength="51.04" lengthAdjust="spacingAndGlyphs">80.0M</text>
<text x="42.78" y="884.20" fill="#94a3b8" font-size="17.4" textLength="61.56" lengthAdjust="spacingAndGlyphs">100.0M</text>
<text x="206.18" y="1128.30" fill="#94a3b8" font-size="17.4" textLength="29.05" lengthAdjust="spacingAndGlyphs">Apr</text>
<text x="420.33" y="1128.30" fill="#94a3b8" font-size="17.4" textLength="20.75" lengthAdjust="spacingAndGlyphs">Jul</text>
<text x="630.16" y="1128.30" fill="#94a3b8" font-size="17.4" textLength="28.48" lengthAdjust="spacingAndGlyphs">Oct</text>
<text x="836.58" y="1128.30" fill="#94a3b8" font-size="17.4" textLength="41.46" lengthAdjust="spacingAndGlyphs">2025</text>
<text x="1051.18" y="1128.30" fill="#94a3b8" font-size="17.4" textLength="29.05" lengthAdjust="spacingAndGlyphs">Apr</text>
<text x="1264.33" y="1128.30" fill="#94a3b8" font-size="17.4" textLength="20.75" lengthAdjust="spacingAndGlyphs">Jul</text>
<text x="1474.16" y="1128.30" fill="#94a3b8" font-size="17.4" textLength="28.48" lengthAdjust="spacingAndGlyphs">Oct</text>
<text x="1680.56" y="1128.30" fill="#94a3b8" font-size="17.4" textLength="41.92" lengthAdjust="spacingAndGlyphs">2026</text>
<text x="1896.18" y="1128.30" fill="#94a3b8" font-size="17.4" textLength="29.05" lengthAdjust="spacingAndGlyphs">Apr</text>
<text x="0" y="0" transform="translate(70.1,443.0) rotate(-90)" fill="#94a3b8" font-size="19.87" text-anchor="middle" textLength="106.93" lengthAdjust="spacingAndGlyphs">Price (HKD)</text>
<text x="0" y="0" transform="translate(28.8,977.4) rotate(-90)" fill="#94a3b8" font-size="19.87" text-anchor="middle" textLength="68.49" lengthAdjust="spacingAndGlyphs">Volume</text>
<text x="1026.27" y="1154.20" fill="#94a3b8" font-size="19.87" textLength="44.65" lengthAdjust="spacingAndGlyphs">Date</text>
<text x="760.00" y="37.10" fill="#e2e8f0" font-size="30.9" font-weight="bold" textLength="577.66" lengthAdjust="spacingAndGlyphs">HKEX 1109 - Daily Price Timeseries</text>
<rect x="127.5" y="70" width="125.5" height="52" rx="4" fill="#3f4553" stroke="#545b69" stroke-width="1.2"/>
<path d="M132,83H169" stroke="#60a5fa" stroke-width="3.5"/>
<path d="M132,106.4H169" stroke="#f2a12a" stroke-width="2.3"/>
<text x="181.70" y="89.10" fill="#e5e7eb" font-size="17.4" textLength="45.27" lengthAdjust="spacingAndGlyphs">Close</text>
<text x="180.60" y="111.90" fill="#e5e7eb" font-size="17.4" textLength="64.70" lengthAdjust="spacingAndGlyphs">20D MA</text>
<circle cx="1893.5" cy="316.6" r="6.3" fill="#ffffff"/>
<rect x="1913.5" y="278.5" width="161" height="23.5" rx="3" fill="#0f172a" stroke="#334155" stroke-width="1.2"/>
<text x="1916.97" y="295.00" fill="#e2e8f0" font-size="17.4" textLength="151.70" lengthAdjust="spacingAndGlyphs">Last close: 28.800</text>
</svg></body></html>
